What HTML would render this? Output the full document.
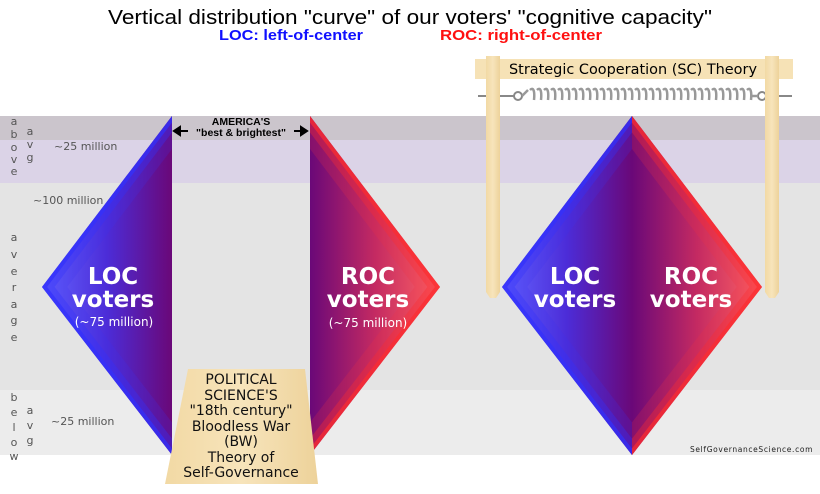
<!DOCTYPE html>
<html><head><meta charset="utf-8"><style>
html,body{margin:0;padding:0;background:#fff;width:820px;height:494px;overflow:hidden}
svg{display:block}
text{font-family:"DejaVu Sans","Liberation Sans",sans-serif}
</style></head><body>
<svg width="820" height="494" viewBox="0 0 820 494" xmlns="http://www.w3.org/2000/svg">
<defs>
<linearGradient id="wood" x1="0" y1="0" x2="1" y2="0"><stop offset="0" stop-color="#f2d9a4"/><stop offset="0.5" stop-color="#f7e4bb"/><stop offset="1" stop-color="#edd29a"/></linearGradient>
<linearGradient id="gL" gradientUnits="userSpaceOnUse" x1="42" y1="0" x2="172" y2="0"><stop offset="0" stop-color="#6464ff"/><stop offset="0.5" stop-color="#4c2cd8"/><stop offset="1" stop-color="#6a0878"/></linearGradient>
<linearGradient id="gR" gradientUnits="userSpaceOnUse" x1="310" y1="0" x2="440" y2="0"><stop offset="0" stop-color="#6a0878"/><stop offset="0.5" stop-color="#c42a62"/><stop offset="1" stop-color="#ff6464"/></linearGradient>
<polygon id="tL" points="172,116 42,287 172,455"/>
<polygon id="tR" points="310,116 440,287 310,455"/>
<clipPath id="cL"><use href="#tL"/></clipPath>
<clipPath id="cR"><use href="#tR"/></clipPath>
<g id="blues">
<polygon points="172,116 42,287 172,455" fill="url(#gL)"/>
<g clip-path="url(#cL)">
<polygon points="172,116 42,287 172,455 300,455 300,116" fill="none" stroke="#3030ff" stroke-width="8" opacity="0.7"/>
<polygon points="172,116 42,287 172,455 300,455 300,116" fill="none" stroke="#3030ff" stroke-width="20" opacity="0.35"/>
<polygon points="172,116 42,287 172,455 300,455 300,116" fill="none" stroke="#3a30f0" stroke-width="40" opacity="0.2"/>
</g>
</g>
<g id="reds">
<polygon points="310,116 440,287 310,455" fill="url(#gR)"/>
<g clip-path="url(#cR)">
<polygon points="310,116 440,287 310,455 180,455 180,116" fill="none" stroke="#ff2c2c" stroke-width="8" opacity="0.7"/>
<polygon points="310,116 440,287 310,455 180,455 180,116" fill="none" stroke="#ff2c2c" stroke-width="20" opacity="0.35"/>
<polygon points="310,116 440,287 310,455 180,455 180,116" fill="none" stroke="#f03040" stroke-width="40" opacity="0.2"/>
</g>
</g>
</defs>
<rect x="0" y="116" width="820" height="24" fill="#cbc5cc"/>
<rect x="0" y="140" width="820" height="43" fill="#dbd3e7"/>
<rect x="0" y="183" width="820" height="207" fill="#e4e4e4"/>
<rect x="0" y="390" width="820" height="65" fill="#ececec"/>
<text x="410" y="24" text-anchor="middle" font-size="20" textLength="604" lengthAdjust="spacingAndGlyphs" fill="#000" style="font-family:'Liberation Sans',sans-serif">Vertical distribution "curve" of our voters' "cognitive capacity"</text>
<text x="291" y="40" text-anchor="middle" font-size="15" font-weight="bold" textLength="144" lengthAdjust="spacingAndGlyphs" fill="#1010ff" style="font-family:'Liberation Sans',sans-serif">LOC: left-of-center</text>
<text x="521" y="40" text-anchor="middle" font-size="15" font-weight="bold" textLength="162" lengthAdjust="spacingAndGlyphs" fill="#ff1010" style="font-family:'Liberation Sans',sans-serif">ROC: right-of-center</text>
<g font-size="11" fill="#555" text-anchor="middle">
<text x="14" y="125">a</text><text x="14" y="138">b</text><text x="14" y="151">o</text><text x="14" y="163">v</text><text x="14" y="175">e</text>
<text x="30" y="135">a</text><text x="30" y="148">v</text><text x="30" y="161">g</text>
<text x="14" y="241">a</text><text x="14" y="258">v</text><text x="14" y="275">e</text><text x="14" y="291">r</text><text x="14" y="308">a</text><text x="14" y="324">g</text><text x="14" y="341">e</text>
<text x="14" y="401">b</text><text x="14" y="416">e</text><text x="14" y="431">l</text><text x="14" y="446">o</text><text x="14" y="460">w</text>
<text x="30" y="414">a</text><text x="30" y="429">v</text><text x="30" y="444">g</text>
</g>
<g font-size="11" fill="#555">
<text x="54" y="150">~25 million</text>
<text x="33" y="204">~100 million</text>
<text x="51" y="425">~25 million</text>
</g>
<use href="#blues"/>
<use href="#reds"/>
<use href="#blues" transform="translate(460,0)"/>
<use href="#reds" transform="translate(322,0)"/>
<g fill="#fff" font-weight="bold" text-anchor="middle" font-size="23">
<text x="113" y="284">LOC</text><text x="113" y="307">voters</text>
<text x="368" y="284">ROC</text><text x="368" y="307">voters</text>
<text x="575" y="284">LOC</text><text x="575" y="307">voters</text>
<text x="691" y="284">ROC</text><text x="691" y="307">voters</text>
</g>
<text x="114" y="326" fill="#fff" font-size="12" text-anchor="middle">(~75 million)</text>
<text x="368" y="327" fill="#fff" font-size="12" text-anchor="middle">(~75 million)</text>
<text x="241" y="125" font-size="10.5" text-anchor="middle" fill="#000" style="font-family:'Liberation Sans',sans-serif" font-weight="bold">AMERICA'S</text>
<text x="241" y="136" font-size="10.5" text-anchor="middle" fill="#000" style="font-family:'Liberation Sans',sans-serif" font-weight="bold">"best &amp; brightest"</text>
<path d="M176,131 L188,131 M174,131 L180,127 L180,135 Z" stroke="#000" stroke-width="2" fill="#000"/>
<path d="M294,131 L304,131 M307,131 L301,127 L301,135 Z" stroke="#000" stroke-width="2" fill="#000"/>
<polygon points="188,369 305,369 318,484 165,484" fill="url(#wood)"/>
<g font-size="14" text-anchor="middle" fill="#111" style="font-family:'Liberation Sans',sans-serif">
<text x="241" y="384">POLITICAL</text>
<text x="241" y="400">SCIENCE'S</text>
<text x="241" y="415">"18th century"</text>
<text x="241" y="431">Bloodless War</text>
<text x="241" y="446">(BW)</text>
<text x="241" y="462">Theory of</text>
<text x="241" y="477">Self-Governance</text>
</g>
<line x1="478" y1="96" x2="792" y2="96" stroke="#888" stroke-width="2"/>
<rect x="514" y="88" width="252" height="15" fill="#fff"/>
<circle cx="518" cy="96" r="4" fill="none" stroke="#888" stroke-width="2"/>
<circle cx="762" cy="96" r="4" fill="none" stroke="#888" stroke-width="2"/>
<g stroke="#999" stroke-width="2.5" fill="none">
<path d="M522,96 L528,90 M530,90 c3,-3 5,0 4,10 m3,-10 c3,-3 5,0 4,10 m3,-10 c3,-3 5,0 4,10 m3,-10 c3,-3 5,0 4,10 m3,-10 c3,-3 5,0 4,10 m3,-10 c3,-3 5,0 4,10 m3,-10 c3,-3 5,0 4,10 m3,-10 c3,-3 5,0 4,10 m3,-10 c3,-3 5,0 4,10 m3,-10 c3,-3 5,0 4,10 m3,-10 c3,-3 5,0 4,10 m3,-10 c3,-3 5,0 4,10 m3,-10 c3,-3 5,0 4,10 m3,-10 c3,-3 5,0 4,10 m3,-10 c3,-3 5,0 4,10 m3,-10 c3,-3 5,0 4,10 m3,-10 c3,-3 5,0 4,10 m3,-10 c3,-3 5,0 4,10 m3,-10 c3,-3 5,0 4,10 m3,-10 c3,-3 5,0 4,10 m3,-10 c3,-3 5,0 4,10 m3,-10 c3,-3 5,0 4,10 m3,-10 c3,-3 5,0 4,10 m3,-10 c3,-3 5,0 4,10 m3,-10 c3,-3 5,0 4,10 m3,-10 c3,-3 5,0 4,10 m3,-10 c3,-3 5,0 4,10 m3,-10 c3,-3 5,0 4,10 m3,-10 c3,-3 5,0 4,10 m3,-10 c3,-3 5,0 4,10 m3,-10 c3,-3 5,0 4,10 m3,-10 c3,-3 5,0 4,10 M752,96 L758,96"/>
</g>
<rect x="475" y="59" width="318" height="20" fill="#f6e2b6"/>
<polygon points="486,56 500,56 500,292 496,298 490,298 486,292" fill="url(#wood)"/>
<polygon points="765,56 779,56 779,292 775,298 769,298 765,292" fill="url(#wood)"/>
<text x="633" y="74" font-size="14" text-anchor="middle" fill="#000" textLength="248" lengthAdjust="spacingAndGlyphs">Strategic Cooperation (SC) Theory</text>
<text x="752" y="452" font-size="7.5" text-anchor="middle" fill="#222" letter-spacing="1.6" textLength="124" lengthAdjust="spacing">SelfGovernanceScience.com</text>
</svg>
</body></html>
